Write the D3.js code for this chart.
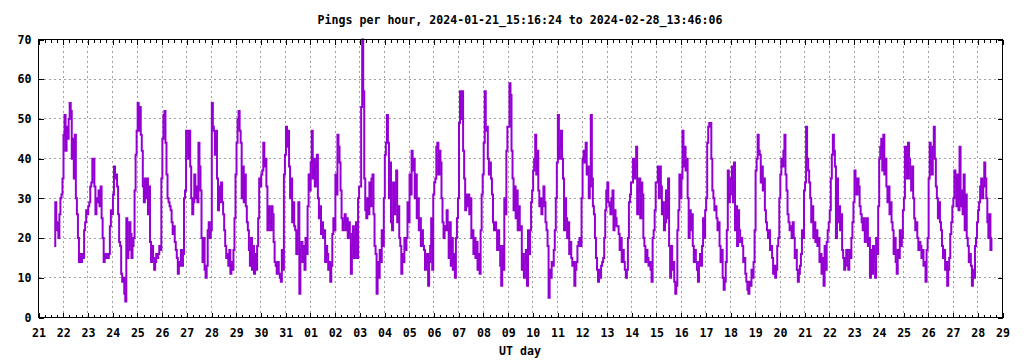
<!DOCTYPE html>
<html>
<head>
<meta charset="utf-8">
<script src="https://cdn.jsdelivr.net/npm/d3@7"></script>
<style>
body { margin: 0; background: #fff; }
text { font-family: "DejaVu Sans Mono", monospace; font-weight: bold; font-size: 11.6px; fill: #000; }
</style>
</head>
<body>
<svg id="chart" width="1024" height="360"></svg>
<script>
var title = "Pings per hour, 2024-01-21_15:16:24 to 2024-02-28_13:46:06";
var xLabel = "UT day";
var firstTime = "2024-01-21T15:16:24Z";
var lastTime = "2024-02-28T13:46:06Z";
var axisStart = "2024-01-21T00:00:00Z";
var axisEnd = "2024-02-29T00:00:00Z";
var stepHours = 1;
var yTicks = [0, 10, 20, 30, 40, 50, 60, 70];

// pings per hour, one row per UT day
var pings = [
  18, 29, 24, 22, 20, 26, 30, 31, 35,  // Jan 21 (15h..23h)
  46, 51, 42, 48, 45, 50, 54, 52, 40, 45, 35, 46, 30, 26, 20, 14, 16, 14, 16, 15, 22, 24, 27, 26,  // 22
  28, 29, 33, 34, 40, 40, 33, 26, 30, 29, 32, 28, 33, 25, 20, 14, 16, 15, 16, 15, 16, 23, 27, 26,  // 23
  31, 38, 35, 36, 33, 26, 19, 18, 11, 9, 10, 6, 4, 25, 15, 17, 24, 21, 15, 18, 20, 32, 41, 47,     // 24
  54, 47, 53, 46, 42, 33, 29, 35, 30, 35, 26, 33, 19, 14, 18, 15, 12, 14, 16, 15, 16, 18, 17, 35,  // 25
  45, 51, 52, 44, 36, 30, 29, 28, 27, 24, 21, 23, 19, 17, 15, 11, 14, 13, 17, 13, 16, 30, 32, 47,  // 26
  47, 40, 47, 38, 30, 26, 29, 36, 30, 33, 29, 44, 38, 32, 20, 14, 20, 12, 10, 13, 22, 24, 20, 22,  // 27
  54, 48, 47, 41, 47, 35, 27, 33, 29, 34, 29, 26, 22, 18, 15, 16, 13, 17, 11, 14, 12, 17, 25, 36,  // 28
  44, 50, 52, 47, 44, 30, 38, 29, 36, 28, 24, 22, 17, 13, 20, 12, 18, 11, 16, 12, 18, 25, 35, 33,  // 29
  36, 37, 44, 38, 40, 33, 22, 28, 24, 22, 28, 26, 19, 14, 13, 11, 14, 11, 10, 9, 17, 12, 36, 41,   // 30
  48, 43, 47, 38, 30, 35, 24, 29, 23, 22, 16, 21, 29, 6, 17, 19, 14, 18, 12, 20, 16, 28, 36, 32,   // 31
  39, 47, 35, 40, 33, 38, 41, 30, 25, 28, 21, 24, 20, 22, 14, 18, 16, 12, 14, 9, 13, 21, 25, 22,   // Feb 01
  36, 31, 46, 43, 39, 32, 25, 22, 24, 26, 22, 25, 20, 24, 21, 11, 18, 23, 15, 20, 24, 15, 30, 33,  // 02
  33, 53, 70, 57, 35, 27, 25, 30, 26, 34, 28, 35, 36, 26, 18, 16, 6, 14, 10, 17, 14, 22, 18, 30,   // 03
  41, 44, 51, 44, 30, 39, 24, 22, 34, 26, 30, 37, 24, 28, 20, 18, 11, 16, 14, 20, 17, 20, 29, 24,  // 04
  36, 31, 42, 37, 40, 30, 36, 25, 30, 22, 25, 18, 22, 18, 17, 12, 14, 16, 8, 14, 18, 25, 12, 31,   // 05
  34, 35, 43, 44, 36, 42, 39, 30, 24, 20, 23, 22, 27, 22, 15, 24, 13, 20, 12, 16, 10, 20, 25, 30,  // 06
  49, 57, 50, 57, 42, 35, 27, 31, 28, 31, 26, 30, 20, 22, 16, 20, 15, 19, 12, 16, 11, 22, 31, 36,  // 07
  44, 57, 47, 48, 40, 36, 39, 35, 31, 24, 22, 24, 22, 17, 22, 18, 13, 8, 18, 12, 30, 26, 42, 48,   // 08
  48, 59, 56, 42, 35, 27, 33, 25, 32, 22, 28, 22, 23, 12, 16, 10, 14, 17, 8, 22, 16, 22, 29, 32,   // 09
  37, 40, 46, 36, 42, 32, 28, 30, 26, 28, 33, 29, 24, 22, 18, 5, 12, 10, 14, 13, 17, 22, 30, 39,   // 10
  51, 40, 43, 47, 40, 35, 22, 30, 25, 20, 24, 16, 19, 15, 13, 14, 8, 12, 14, 18, 19, 20, 18, 30,   // 11
  40, 42, 39, 44, 36, 38, 30, 33, 51, 35, 28, 26, 20, 15, 12, 9, 12, 10, 13, 14, 15, 20, 27, 32,   // 12
  34, 29, 28, 26, 30, 32, 22, 27, 25, 23, 23, 21, 17, 20, 14, 17, 14, 12, 10, 12, 20, 29, 31, 34,  // 13
  34, 40, 35, 38, 43, 26, 32, 35, 25, 34, 31, 20, 18, 14, 17, 15, 13, 14, 12, 9, 20, 22, 27, 34,   // 14
  34, 38, 30, 38, 33, 26, 29, 22, 24, 32, 25, 35, 18, 10, 18, 12, 14, 9, 6, 8, 22, 27, 36, 30,     // 15
  35, 47, 38, 43, 37, 40, 30, 20, 27, 22, 26, 18, 14, 17, 14, 12, 9, 14, 16, 13, 18, 25, 20, 27,   // 16
  30, 44, 48, 49, 49, 40, 32, 30, 27, 28, 25, 22, 24, 18, 14, 17, 10, 7, 9, 14, 22, 37, 29, 31,    // 17
  35, 38, 29, 39, 22, 28, 18, 27, 22, 19, 20, 18, 14, 15, 11, 9, 7, 6, 9, 8, 12, 10, 14, 22,       // 18
  37, 40, 46, 42, 41, 34, 38, 32, 35, 27, 24, 22, 20, 22, 17, 18, 15, 11, 13, 10, 12, 18, 20, 30,  // 19
  36, 40, 38, 42, 46, 36, 32, 26, 24, 22, 23, 20, 24, 20, 15, 17, 12, 9, 11, 13, 16, 22, 20, 32,   // 20
  34, 48, 40, 37, 34, 30, 24, 28, 20, 24, 19, 22, 18, 20, 14, 16, 11, 15, 8, 18, 12, 19, 22, 24,   // 21
  27, 35, 41, 46, 42, 38, 20, 35, 24, 28, 22, 26, 17, 15, 12, 15, 17, 13, 12, 17, 15, 20, 24, 29,  // 22
  37, 35, 31, 35, 33, 28, 26, 24, 22, 25, 19, 22, 25, 18, 20, 10, 17, 11, 18, 14, 10, 20, 16, 28,  // 23
  40, 43, 45, 37, 46, 36, 40, 33, 29, 33, 26, 29, 24, 22, 16, 20, 14, 11, 17, 15, 22, 18, 20, 27,  // 24
  30, 43, 38, 35, 44, 40, 35, 32, 38, 30, 25, 22, 24, 20, 17, 19, 18, 15, 17, 13, 14, 9, 17, 20,   // 25
  35, 44, 39, 36, 43, 48, 40, 33, 30, 25, 29, 24, 22, 18, 15, 17, 12, 14, 8, 12, 15, 21, 24, 28,   // 26
  30, 37, 35, 28, 36, 27, 43, 28, 32, 26, 36, 22, 31, 20, 18, 14, 16, 13, 8, 12, 10, 18, 20, 24,   // 27
  27, 29, 33, 35, 30, 33, 39, 35, 30, 24, 20, 26, 17, 20                                           // 28 (0h..13h)
];

var svg = d3.select("#chart");
var plotLeft = 38.5, plotRight = 1002.5, plotTop = 39.5, plotBottom = 317.5;

var x = d3.scaleUtc()
  .domain([new Date(axisStart), new Date(axisEnd)])
  .range([plotLeft, plotRight]);
var y = d3.scaleLinear()
  .domain([0, 70])
  .range([plotBottom, plotTop]);

var t0 = new Date(firstTime).getTime();
var data = pings.map(function(v, i){
  return {when: new Date(t0 + i * stepHours * 3600e3), value: v};
});
data.push({when: new Date(lastTime), value: pings[pings.length - 1]});

var days = d3.utcDay.range(new Date(axisStart), d3.utcDay.offset(new Date(axisEnd), 1));
var quarters = d3.utcHour.every(6).range(new Date(axisStart), new Date(axisEnd));

function snap(v){ return Math.round(v - 0.5) + 0.5; }

// grid
var grid = svg.append("g").attr("class", "grid");
grid.selectAll("line.v").data(days.slice(1, -1)).enter().append("line")
  .attr("x1", function(d){ return snap(x(d)); })
  .attr("x2", function(d){ return snap(x(d)); })
  .attr("y1", plotBottom).attr("y2", plotTop);
grid.selectAll("line.h").data(yTicks.slice(1, -1)).enter().append("line")
  .attr("y1", function(d){ return snap(y(d)); })
  .attr("y2", function(d){ return snap(y(d)); })
  .attr("x1", plotLeft).attr("x2", plotRight);
grid.selectAll("line")
  .style("stroke", "#a0a0a0")
  .style("stroke-width", 1)
  .style("stroke-dasharray", "2,3")
  .style("shape-rendering", "crispEdges");

// the data
var line = d3.line()
  .x(function(d){ return x(d.when); })
  .y(function(d){ return y(d.value); })
  .curve(d3.curveStepAfter);
svg.append("path")
  .datum(data)
  .attr("d", line)
  .style("fill", "none")
  .style("stroke", "#9400d3")
  .style("stroke-width", 2)
  .style("stroke-linejoin", "miter");

// axes, ticks pointing inward
var fmt = d3.utcFormat("%d");
svg.append("g").attr("transform", "translate(0," + plotBottom + ")")
  .call(d3.axisBottom(x).tickValues(days).tickFormat(fmt).tickSize(-5).tickPadding(11));
svg.append("g").attr("transform", "translate(0," + plotBottom + ")")
  .call(d3.axisBottom(x).tickValues(quarters).tickFormat("").tickSize(-3));
svg.append("g").attr("transform", "translate(0," + plotTop + ")")
  .call(d3.axisTop(x).tickValues(days).tickFormat("").tickSize(-5));
svg.append("g").attr("transform", "translate(0," + plotTop + ")")
  .call(d3.axisTop(x).tickValues(quarters).tickFormat("").tickSize(-3));
svg.append("g").attr("transform", "translate(" + plotLeft + ",0)")
  .call(d3.axisLeft(y).tickValues(yTicks).tickSize(-5).tickPadding(7));
svg.append("g").attr("transform", "translate(" + plotRight + ",0)")
  .call(d3.axisRight(y).tickValues(yTicks).tickFormat("").tickSize(-5));

svg.selectAll(".domain").remove();
svg.selectAll(".tick line").style("stroke", "#000").style("shape-rendering", "crispEdges");
svg.selectAll(".tick text")
  .style("font-family", "DejaVu Sans Mono, monospace")
  .style("font-size", "11.6px")
  .style("font-weight", "bold");

svg.append("rect")
  .attr("x", plotLeft).attr("y", plotTop)
  .attr("width", plotRight - plotLeft).attr("height", plotBottom - plotTop)
  .style("fill", "none").style("stroke", "#000").style("stroke-width", 1)
  .style("shape-rendering", "crispEdges");

svg.append("text")
  .attr("x", 520).attr("y", 24)
  .attr("text-anchor", "middle")
  .text(title);
svg.append("text")
  .attr("x", 520).attr("y", 355)
  .attr("text-anchor", "middle")
  .text(xLabel);
</script>
</body>
</html>
